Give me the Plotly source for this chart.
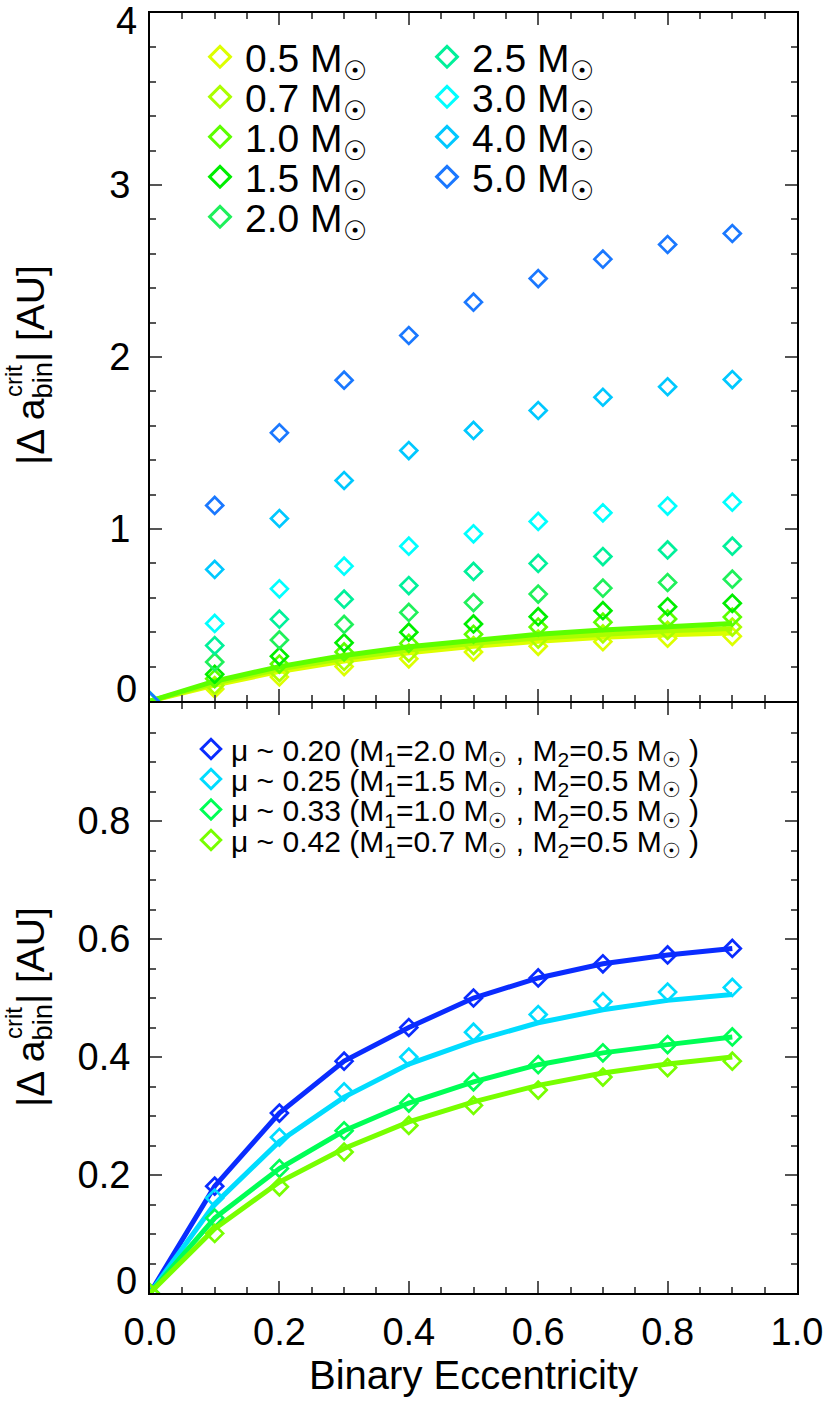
import plotly.graph_objects as go
from plotly.subplots import make_subplots

# ---------------- data ----------------
ecc = [0.0, 0.1, 0.2, 0.3, 0.4, 0.5, 0.6, 0.7, 0.8, 0.9]

mass_labels = ["0.5", "0.7", "1.0", "1.5", "2.0", "2.5", "3.0", "4.0", "5.0"]
m05 = [0, 0.070, 0.140, 0.200, 0.245, 0.285, 0.318, 0.345, 0.365, 0.376]
m07 = [0, 0.090, 0.165, 0.230, 0.280, 0.322, 0.360, 0.390, 0.410, 0.430]
m10 = [0, 0.130, 0.215, 0.285, 0.335, 0.388, 0.430, 0.458, 0.477, 0.488]
m15 = [0, 0.155, 0.260, 0.338, 0.400, 0.448, 0.490, 0.525, 0.548, 0.568]
m20 = [0, 0.227, 0.355, 0.445, 0.515, 0.572, 0.622, 0.656, 0.689, 0.708]
m25 = [0, 0.322, 0.476, 0.592, 0.671, 0.753, 0.800, 0.840, 0.878, 0.900]
m30 = [0, 0.451, 0.652, 0.784, 0.900, 0.972, 1.044, 1.094, 1.133, 1.156]
m40 = [0, 0.765, 1.061, 1.282, 1.456, 1.573, 1.689, 1.766, 1.827, 1.869]
m50 = [0, 1.137, 1.559, 1.865, 2.125, 2.319, 2.456, 2.569, 2.654, 2.718]
mass_values = [m05, m07, m10, m15, m20, m25, m30, m40, m50]

# fitted curves (top panel) for the three lowest masses
line05 = [0, 0.093, 0.172, 0.232, 0.280, 0.318, 0.347, 0.370, 0.385, 0.395]
line07 = [0, 0.103, 0.186, 0.248, 0.297, 0.336, 0.366, 0.390, 0.408, 0.422]
line10 = [0, 0.115, 0.200, 0.265, 0.315, 0.355, 0.388, 0.413, 0.433, 0.450]
top_lines = [("0.5", line05), ("0.7", line07), ("1.0", line10)]

# bottom panel
mu_labels = [
    "μ ~ 0.20 (M<sub>1</sub>=2.0 M<sub>☉</sub> , M<sub>2</sub>=0.5 M<sub>☉</sub> )",
    "μ ~ 0.25 (M<sub>1</sub>=1.5 M<sub>☉</sub> , M<sub>2</sub>=0.5 M<sub>☉</sub> )",
    "μ ~ 0.33 (M<sub>1</sub>=1.0 M<sub>☉</sub> , M<sub>2</sub>=0.5 M<sub>☉</sub> )",
    "μ ~ 0.42 (M<sub>1</sub>=0.7 M<sub>☉</sub> , M<sub>2</sub>=0.5 M<sub>☉</sub> )",
]
mu20_pts = [0, 0.181, 0.305, 0.393, 0.450, 0.500, 0.534, 0.558, 0.573, 0.584]
mu25_pts = [0, 0.161, 0.264, 0.341, 0.400, 0.442, 0.472, 0.494, 0.510, 0.518]
mu33_pts = [0, 0.127, 0.211, 0.275, 0.322, 0.358, 0.387, 0.407, 0.421, 0.434]
mu42_pts = [0, 0.101, 0.180, 0.239, 0.284, 0.318, 0.344, 0.366, 0.382, 0.393]
mu20_line = [0, 0.181, 0.305, 0.393, 0.450, 0.500, 0.534, 0.558, 0.573, 0.584]
mu25_line = [0, 0.151, 0.257, 0.332, 0.388, 0.427, 0.458, 0.480, 0.496, 0.506]
mu33_line = [0, 0.127, 0.211, 0.275, 0.322, 0.358, 0.387, 0.407, 0.421, 0.434]
mu42_line = [0, 0.109, 0.188, 0.245, 0.290, 0.324, 0.352, 0.373, 0.388, 0.400]
mu_pts = [mu20_pts, mu25_pts, mu33_pts, mu42_pts]
mu_lines = [mu20_line, mu25_line, mu33_line, mu42_line]

top_yticks = [0, 1, 2, 3, 4]
top_yticktext = ["0", "1", "2", "3", "4"]
bot_yticks = [0, 0.2, 0.4, 0.6, 0.8]
bot_yticktext = ["0", "0.2", "0.4", "0.6", "0.8"]
xticks = [0.0, 0.2, 0.4, 0.6, 0.8, 1.0]

# ---------------- style ----------------
mass_colors = ["#dcff00", "#aaff00", "#5cff00", "#00ee00", "#1ff05a",
               "#00f09a", "#00ffff", "#00c8ff", "#1a78ff"]
mu_colors = ["#0a2cff", "#00dcff", "#00ff55", "#77ff00"]
FONT = "Liberation Sans, Arial, Helvetica, sans-serif"
TICK_SIZE = 38

W, H = 830, 1406
PL, PR, PT, PB = 150, 797, 13, 1293
SPLIT = 702
LW = 2  # frame line width


def px_x(px):
    return (px - PL) / (PR - PL)


def px_y(py):
    return (PB - py) / (PB - PT)


fig = make_subplots(rows=2, cols=1, shared_xaxes=True, vertical_spacing=0,
                    row_heights=[SPLIT - PT, PB - SPLIT])

# ---- top panel ----
line_map = dict(top_lines)
for i, (lab, vals) in enumerate(zip(mass_labels, mass_values)):
    c = mass_colors[i]
    fig.add_trace(go.Scatter(
        x=ecc, y=vals, mode="markers", showlegend=False,
        marker=dict(symbol="diamond-open", size=13, color=c,
                    line=dict(width=2.7, color=c))), row=1, col=1)
    if lab in line_map:
        fig.add_trace(go.Scatter(
            x=ecc, y=line_map[lab], mode="lines", showlegend=False,
            line=dict(color=c, width=5)), row=1, col=1)

# ---- bottom panel ----
for i in range(len(mu_labels)):
    c = mu_colors[i]
    fig.add_trace(go.Scatter(
        x=ecc, y=mu_lines[i], mode="lines", showlegend=False,
        line=dict(color=c, width=5)), row=2, col=1)
    fig.add_trace(go.Scatter(
        x=ecc, y=mu_pts[i], mode="markers", showlegend=False,
        marker=dict(symbol="diamond-open", size=13, color=c,
                    line=dict(width=2.7, color=c))), row=2, col=1)

# ---- legend entries (one legend per entry for exact placement) ----
legends = {}
top_sym_x = [220, 220, 220, 220, 220, 447, 447, 447, 447]
top_sym_y = [57, 97, 137, 177, 217, 57, 97, 137, 177]
TOP_IW = 40
for i, lab in enumerate(mass_labels):
    key = "legend" if i == 0 else f"legend{i + 1}"
    fig.add_trace(go.Scatter(
        x=[None], y=[None], mode="markers", name=f"{lab} M<sub>☉</sub>",
        legend=key, showlegend=True,
        marker=dict(symbol="diamond-open", size=16, color=mass_colors[i],
                    line=dict(width=3, color=mass_colors[i]))), row=1, col=1)
    legends[key] = dict(
        x=px_x(top_sym_x[i] - (TOP_IW + 10) / 2), y=px_y(top_sym_y[i]),
        xanchor="left", yanchor="middle", xref="paper", yref="paper",
        bgcolor="rgba(0,0,0,0)", borderwidth=0, itemwidth=TOP_IW,
        font=dict(family=FONT, size=39, color="black"))

BOT_IW = 30
bot_sym_x = 211
bot_sym_y = [749, 779, 809.5, 840]
for i, lab in enumerate(mu_labels):
    key = f"legend{10 + i}"
    fig.add_trace(go.Scatter(
        x=[None], y=[None], mode="markers", name=lab,
        legend=key, showlegend=True,
        marker=dict(symbol="diamond-open", size=15, color=mu_colors[i],
                    line=dict(width=3, color=mu_colors[i]))), row=2, col=1)
    legends[key] = dict(
        x=px_x(bot_sym_x - (BOT_IW + 10) / 2), y=px_y(bot_sym_y[i]),
        xanchor="left", yanchor="middle", xref="paper", yref="paper",
        bgcolor="rgba(0,0,0,0)", borderwidth=0, itemwidth=BOT_IW,
        font=dict(family=FONT, size=30, color="black"))

# ---------------- axes ----------------
axis_common = dict(
    showline=True, linecolor="black", linewidth=LW, mirror="ticks",
    ticks="inside", ticklen=12, tickwidth=1.5, tickcolor="#555",
    showgrid=False, zeroline=False, automargin=False,
    ticklabeloverflow="allow",
    tickfont=dict(family=FONT, size=TICK_SIZE, color="black"),
)
fig.update_xaxes(range=[0, 1], tickvals=xticks, tickformat=".1f",
                 minor=dict(ticks="inside", ticklen=6, tickwidth=1.5,
                            tickcolor="#555", dtick=0.05, showgrid=False),
                 **axis_common)
fig.update_xaxes(showticklabels=False, row=1, col=1)
fig.update_xaxes(showticklabels=True, ticklabelstandoff=4,
                 title=dict(text="Binary Eccentricity", standoff=2,
                            font=dict(family=FONT, size=40, color="black")),
                 row=2, col=1)
# edge labels (0 and 4) are drawn as shifted annotations, like the reference
fig.update_yaxes(range=[0, 4], tickvals=top_yticks,
                 ticktext=[""] + top_yticktext[1:-1] + [""],
                 ticklabelstandoff=10,
                 minor=dict(ticks="inside", ticklen=6, tickwidth=1.5,
                            tickcolor="#555", dtick=0.2, showgrid=False),
                 row=1, col=1, **axis_common)
fig.update_yaxes(range=[0, 1], tickvals=bot_yticks,
                 ticktext=[""] + bot_yticktext[1:],
                 ticklabelstandoff=10,
                 minor=dict(ticks="inside", ticklen=6, tickwidth=1.5,
                            tickcolor="#555", dtick=0.05, showgrid=False),
                 row=2, col=1, **axis_common)
# leave a gap of one frame-line width between the panels so that the two
# frame lines (drawn just outside each plot area) fall on the same pixels
fig.update_layout(
    yaxis=dict(domain=[px_y(SPLIT - LW / 2), 1]),
    yaxis2=dict(domain=[0, px_y(SPLIT + LW / 2)]),
)

annotations = []
edge_labels = [("y", top_yticks[0], top_yticktext[0], 12),
               ("y", top_yticks[-1], top_yticktext[-1], -8),
               ("y2", bot_yticks[0], bot_yticktext[0], 12)]
for yref, val, txt, shift in edge_labels:
    annotations.append(dict(
        text=txt, x=0, y=val, xref="paper", yref=yref,
        xanchor="right", yanchor="middle", xshift=-11, yshift=shift,
        showarrow=False, font=dict(family=FONT, size=TICK_SIZE, color="black")))

# ---------------- y-axis titles ----------------
for cy in (365, 1007):
    annotations.append(dict(
        text="|Δ a<sub>bin</sub>| [AU]", x=px_x(33), y=px_y(cy),
        xref="paper", yref="paper", xanchor="center", yanchor="middle",
        textangle=-90, showarrow=False,
        font=dict(family=FONT, size=39, color="black")))
    annotations.append(dict(
        text="crit", x=px_x(13), y=px_y(cy + 16),
        xref="paper", yref="paper", xanchor="center", yanchor="middle",
        textangle=-90, showarrow=False,
        font=dict(family=FONT, size=24, color="black")))

fig.update_layout(
    width=W, height=H,
    margin=dict(l=PL, r=W - PR, t=PT, b=H - PB, autoexpand=False),
    paper_bgcolor="white", plot_bgcolor="white",
    font=dict(family=FONT, color="black"),
    annotations=annotations,
    **legends,
)

# remove the browser's default 8px page margin so the figure sits at (0, 0)
fig.write_html("out.html", config={"displayModeBar": False},
               post_script="document.body.style.margin='0';")
